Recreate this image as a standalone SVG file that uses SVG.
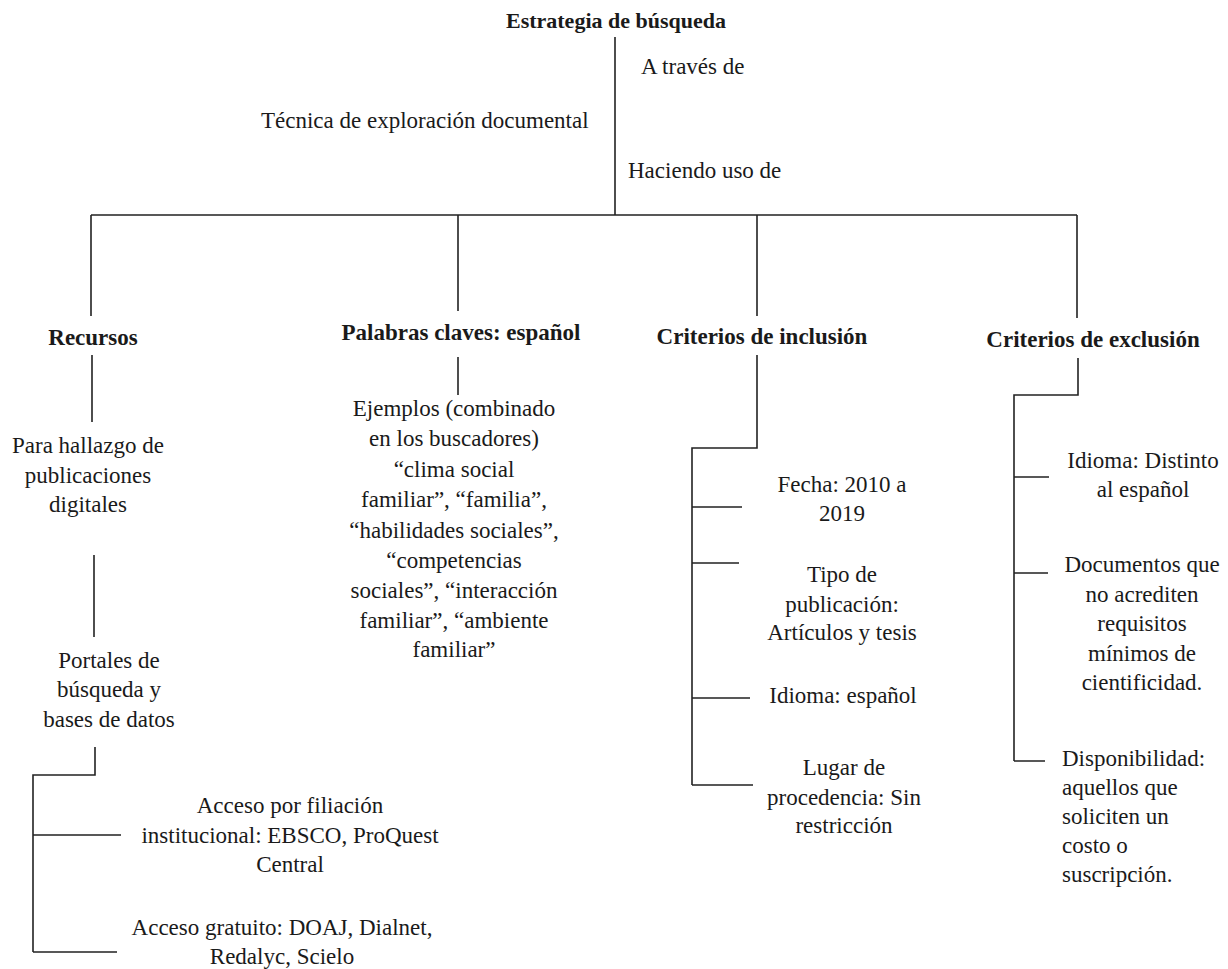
<svg xmlns="http://www.w3.org/2000/svg" width="1228" height="969" viewBox="0 0 1228 969">
<style>
text{font-family:"Liberation Serif","Times New Roman",serif;font-size:23px;fill:#1a1a1a}
.c{text-anchor:middle}
.b{font-weight:bold}
.ln{stroke:#222;stroke-width:1.6;fill:none}
</style>
<rect width="1228" height="969" fill="#fff"/>
<g id="connectors">
<path class="ln" d="M615 37V215M91 215H1077M91 215V316M458 215V311M757 215V316M1077 215V318"/>
<path class="ln" d="M92 355V422M94 555V637M95 747V775H33V952M33 835H121M33 952H117"/>
<path class="ln" d="M458 357V395"/>
<path class="ln" d="M757 355V448H692V785M692 507H742M692 563H739M692 698H750M692 785H753"/>
<path class="ln" d="M1078 358V395H1014V761M1014 477H1049M1014 573H1048M1014 761H1045"/>
</g>
<g id="title"><text class="c b" x="616" y="28" style="font-size:22px">Estrategia de búsqueda</text></g>
<g id="label-a-traves"><text x="641" y="74">A través de</text></g>
<g id="tecnica"><text x="261" y="128">Técnica de exploración documental</text></g>
<g id="label-haciendo"><text x="628" y="178">Haciendo uso de</text></g>
<g id="recursos"><text class="c b" x="93" y="345">Recursos</text></g>
<g id="hallazgo"><text class="c" x="88"><tspan x="88" y="453">Para hallazgo de</tspan><tspan x="88" y="483">publicaciones</tspan><tspan x="88" y="512">digitales</tspan></text></g>
<g id="portales"><text class="c" x="109"><tspan x="109" y="668">Portales de</tspan><tspan x="109" y="697">búsqueda y</tspan><tspan x="109" y="727">bases de datos</tspan></text></g>
<g id="acceso-filiacion"><text class="c" x="290"><tspan x="290" y="813">Acceso por filiación</tspan><tspan x="290" y="843">institucional: EBSCO, ProQuest</tspan><tspan x="290" y="872">Central</tspan></text></g>
<g id="acceso-gratuito"><text class="c" x="282"><tspan x="282" y="935">Acceso gratuito: DOAJ, Dialnet,</tspan><tspan x="282" y="964">Redalyc, Scielo</tspan></text></g>
<g id="palabras"><text class="c b" x="461" y="340">Palabras claves: español</text></g>
<g id="ejemplos"><text class="c" x="454"><tspan x="454" y="416">Ejemplos (combinado</tspan><tspan x="454" y="446">en los buscadores)</tspan><tspan x="454" y="477">“clima social</tspan><tspan x="454" y="507">familiar”, “familia”,</tspan><tspan x="454" y="538">“habilidades sociales”,</tspan><tspan x="454" y="568">“competencias</tspan><tspan x="454" y="598">sociales”, “interacción</tspan><tspan x="454" y="628">familiar”, “ambiente</tspan><tspan x="454" y="657">familiar”</tspan></text></g>
<g id="inclusion"><text class="c b" x="762" y="344">Criterios de inclusión</text></g>
<g id="fecha"><text class="c" x="842"><tspan x="842" y="492">Fecha: 2010 a</tspan><tspan x="842" y="521">2019</tspan></text></g>
<g id="tipo"><text class="c" x="842"><tspan x="842" y="582">Tipo de</tspan><tspan x="842" y="612">publicación:</tspan><tspan x="842" y="640">Artículos y tesis</tspan></text></g>
<g id="idioma-inc"><text class="c" x="843" y="703">Idioma: español</text></g>
<g id="lugar"><text class="c" x="844"><tspan x="844" y="775">Lugar de</tspan><tspan x="844" y="805">procedencia: Sin</tspan><tspan x="844" y="833">restricción</tspan></text></g>
<g id="exclusion"><text class="c b" x="1093" y="347">Criterios de exclusión</text></g>
<g id="idioma-exc"><text class="c" x="1143"><tspan x="1143" y="468">Idioma: Distinto</tspan><tspan x="1143" y="497">al español</tspan></text></g>
<g id="documentos"><text class="c" x="1142"><tspan x="1142" y="572">Documentos que</tspan><tspan x="1142" y="602">no acrediten</tspan><tspan x="1142" y="631">requisitos</tspan><tspan x="1142" y="661">mínimos de</tspan><tspan x="1142" y="690">cientificidad.</tspan></text></g>
<g id="disponibilidad"><text x="1062"><tspan x="1062" y="766">Disponibilidad:</tspan><tspan x="1062" y="795">aquellos que</tspan><tspan x="1062" y="824">soliciten un</tspan><tspan x="1062" y="853">costo o</tspan><tspan x="1062" y="882">suscripción.</tspan></text></g>
</svg>
